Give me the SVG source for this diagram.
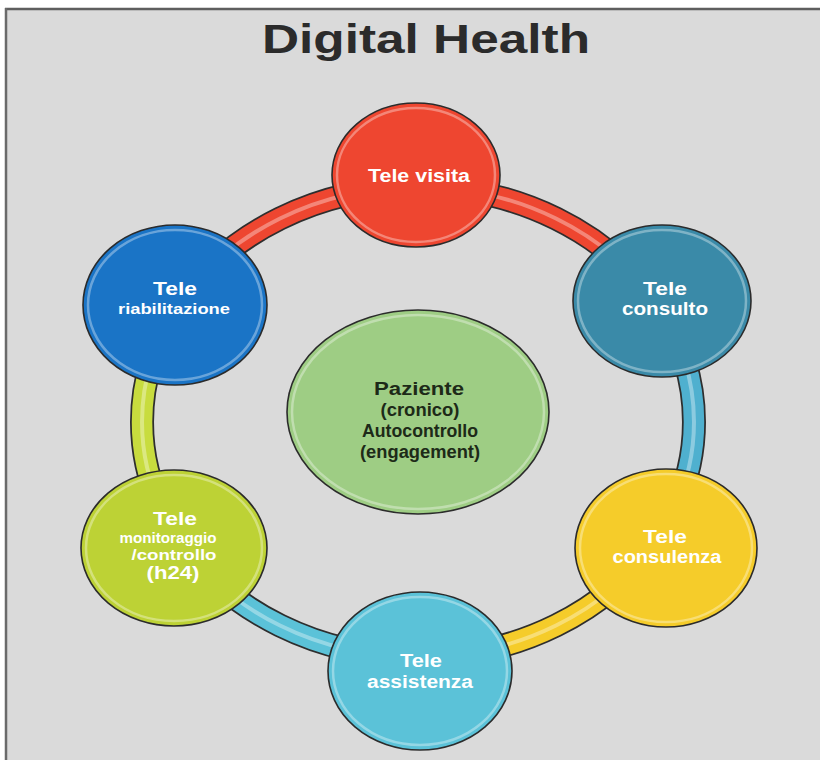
<svg xmlns="http://www.w3.org/2000/svg" width="820" height="760" viewBox="0 0 820 760">
<defs>
<style>
.title{font-family:"Liberation Sans",Arial,sans-serif;font-weight:bold;fill:#2b2b2b;text-anchor:middle}
.lbl{font-family:"Liberation Sans",Arial,sans-serif;font-weight:bold;fill:#ffffff;text-anchor:middle}
.ctr{font-family:"Liberation Sans",Arial,sans-serif;font-weight:bold;fill:#1d2a18;text-anchor:middle}
.node{stroke:#2b2b2b;stroke-width:1.6}
.gloss{fill:none;stroke:#ffffff;stroke-opacity:0.35;stroke-width:2.5}
.tubeo{fill:none;stroke:#2e2e2e;stroke-width:24}
.tube{fill:none;stroke-width:20.5}
.hl{fill:none;stroke:#ffffff;stroke-opacity:0.35;stroke-width:4}
</style>
</defs>
<rect x="0" y="0" width="820" height="760" fill="#ffffff"/>
<rect x="5" y="8" width="815" height="752" fill="#dadada"/>
<line x1="5" y1="9" x2="820" y2="9" stroke="#5e5e5e" stroke-width="2.5"/>
<line x1="6" y1="8" x2="6" y2="760" stroke="#6a6a6a" stroke-width="2.5"/>
<text class="title" x="426" y="53" font-size="41" textLength="328" lengthAdjust="spacingAndGlyphs">Digital Health</text>

<g id="connectors">
<path class="tubeo" d="M179,304.5 A276,235 0 0 1 418,187"/>
<path class="tube" stroke="#ee4630" d="M179,304.5 A276,235 0 0 1 418,187"/>
<path class="hl" d="M179,304.5 A276,235 0 0 1 418,187"/>
<path class="tubeo" d="M418,187 A276,235 0 0 1 657,304.5"/>
<path class="tube" stroke="#ee4630" d="M418,187 A276,235 0 0 1 657,304.5"/>
<path class="hl" d="M418,187 A276,235 0 0 1 657,304.5"/>
<path class="tubeo" d="M657,304.5 A276,235 0 0 1 657,539.5"/>
<path class="tube" stroke="#4fb0cf" d="M657,304.5 A276,235 0 0 1 657,539.5"/>
<path class="hl" d="M657,304.5 A276,235 0 0 1 657,539.5"/>
<path class="tubeo" d="M657,539.5 A276,235 0 0 1 418,657"/>
<path class="tube" stroke="#f5cc2a" d="M657,539.5 A276,235 0 0 1 418,657"/>
<path class="hl" d="M657,539.5 A276,235 0 0 1 418,657"/>
<path class="tubeo" d="M418,657 A276,235 0 0 1 179,539.5"/>
<path class="tube" stroke="#5bc2d8" d="M418,657 A276,235 0 0 1 179,539.5"/>
<path class="hl" d="M418,657 A276,235 0 0 1 179,539.5"/>
<path class="tubeo" d="M179,539.5 A276,235 0 0 1 179,304.5"/>
<path class="tube" stroke="#c8dc3e" d="M179,539.5 A276,235 0 0 1 179,304.5"/>
<path class="hl" d="M179,539.5 A276,235 0 0 1 179,304.5"/>
</g>

<g id="center">
<ellipse class="node" cx="418" cy="412" rx="131" ry="102" fill="#9ecd84"/>
<ellipse class="gloss" cx="418" cy="412" rx="126" ry="97"/>
<text class="ctr" x="419" y="395" font-size="18" textLength="90" lengthAdjust="spacingAndGlyphs">Paziente</text>
<text class="ctr" x="420" y="416" font-size="18" textLength="79" lengthAdjust="spacingAndGlyphs">(cronico)</text>
<text class="ctr" x="420" y="437" font-size="18" textLength="116" lengthAdjust="spacingAndGlyphs">Autocontrollo</text>
<text class="ctr" x="420" y="458" font-size="18" textLength="120" lengthAdjust="spacingAndGlyphs">(engagement)</text>
</g>

<g id="tele-visita">
<ellipse class="node" cx="416" cy="175" rx="84" ry="72" fill="#ee4630"/>
<ellipse class="gloss" cx="416" cy="175" rx="79" ry="67"/>
<text class="lbl" x="419" y="182" font-size="18" textLength="102" lengthAdjust="spacingAndGlyphs">Tele visita</text>
</g>

<g id="tele-consulto">
<ellipse class="node" cx="662" cy="301" rx="89" ry="76" fill="#3a8aa8"/>
<ellipse class="gloss" cx="662" cy="301" rx="84" ry="71"/>
<text class="lbl" x="665" y="295" font-size="18" textLength="44" lengthAdjust="spacingAndGlyphs">Tele</text>
<text class="lbl" x="665" y="315" font-size="18" textLength="86" lengthAdjust="spacingAndGlyphs">consulto</text>
</g>

<g id="tele-consulenza">
<ellipse class="node" cx="666" cy="548" rx="91" ry="79" fill="#f5cc2a"/>
<ellipse class="gloss" cx="666" cy="548" rx="86" ry="74"/>
<text class="lbl" x="665" y="543" font-size="18" textLength="44" lengthAdjust="spacingAndGlyphs">Tele</text>
<text class="lbl" x="667" y="563" font-size="18" textLength="109" lengthAdjust="spacingAndGlyphs">consulenza</text>
</g>

<g id="tele-assistenza">
<ellipse class="node" cx="420" cy="671" rx="92" ry="79" fill="#5bc2d8"/>
<ellipse class="gloss" cx="420" cy="671" rx="87" ry="74"/>
<text class="lbl" x="421" y="667" font-size="18" textLength="42" lengthAdjust="spacingAndGlyphs">Tele</text>
<text class="lbl" x="420" y="688" font-size="18" textLength="106" lengthAdjust="spacingAndGlyphs">assistenza</text>
</g>

<g id="tele-monitoraggio">
<ellipse class="node" cx="174" cy="548" rx="93" ry="78" fill="#bdd235"/>
<ellipse class="gloss" cx="174" cy="548" rx="88" ry="73"/>
<text class="lbl" x="175" y="525" font-size="18" textLength="44" lengthAdjust="spacingAndGlyphs">Tele</text>
<text class="lbl" x="168" y="543" font-size="14" textLength="97" lengthAdjust="spacingAndGlyphs">monitoraggio</text>
<text class="lbl" x="174" y="560" font-size="14" textLength="85" lengthAdjust="spacingAndGlyphs">/controllo</text>
<text class="lbl" x="173" y="579" font-size="18" textLength="53" lengthAdjust="spacingAndGlyphs">(h24)</text>
</g>

<g id="tele-riabilitazione">
<ellipse class="node" cx="175" cy="305" rx="92" ry="80" fill="#1a74c6"/>
<ellipse class="gloss" cx="175" cy="305" rx="87" ry="75"/>
<text class="lbl" x="175" y="295" font-size="18" textLength="44" lengthAdjust="spacingAndGlyphs">Tele</text>
<text class="lbl" x="174" y="314" font-size="14" textLength="112" lengthAdjust="spacingAndGlyphs">riabilitazione</text>
</g>
</svg>
